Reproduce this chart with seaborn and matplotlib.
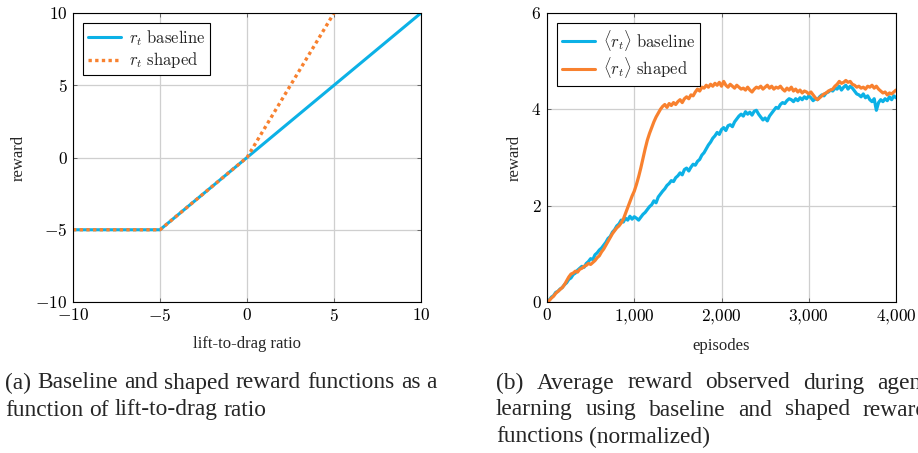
import numpy as np
import pandas as pd
import matplotlib
matplotlib.use("Agg")
import matplotlib.pyplot as plt
import seaborn as sns

# ---------------- data ----------------
ratio_baseline = [-10, -5, 0, 10]
reward_baseline = [-5, -5, 0, 10]
ratio_shaped = [-10, -5, 0, 5]
reward_shaped = [-5, -5, 0, 10]

episode_step = 25
avg_baseline = [
    0.00, 0.04, 0.10, 0.13, 0.20, 0.22, 0.27, 0.30, 0.36, 0.40,
    0.47, 0.50, 0.57, 0.60, 0.66, 0.70, 0.74, 0.72, 0.80, 0.84,
    0.90, 0.88, 0.98, 1.02, 1.08, 1.12, 1.18, 1.24, 1.32, 1.36,
    1.45, 1.50, 1.58, 1.62, 1.70, 1.66, 1.74, 1.70, 1.78, 1.72,
    1.77, 1.74, 1.70, 1.76, 1.82, 1.86, 1.92, 1.98, 2.02, 2.10,
    2.06, 2.18, 2.24, 2.30, 2.35, 2.42, 2.46, 2.52, 2.50, 2.58,
    2.62, 2.68, 2.64, 2.75, 2.78, 2.72, 2.80, 2.86, 2.84, 2.92,
    2.96, 3.05, 3.10, 3.18, 3.26, 3.32, 3.40, 3.45, 3.52, 3.48,
    3.58, 3.62, 3.56, 3.66, 3.68, 3.64, 3.74, 3.80, 3.86, 3.90,
    3.86, 3.95, 3.90, 3.94, 3.88, 3.96, 3.98, 3.90, 3.84, 3.78,
    3.82, 3.76, 3.86, 3.92, 3.98, 4.04, 4.02, 4.10, 4.14, 4.12,
    4.18, 4.22, 4.20, 4.16, 4.22, 4.18, 4.24, 4.20, 4.26, 4.22,
    4.28, 4.24, 4.18, 4.22, 4.20, 4.26, 4.30, 4.28, 4.34, 4.36,
    4.40, 4.38, 4.44, 4.42, 4.48, 4.40, 4.46, 4.50, 4.42, 4.48,
    4.44, 4.38, 4.32, 4.30, 4.26, 4.32, 4.24, 4.28, 4.20, 4.16,
    4.22, 3.98, 4.14, 4.20, 4.16, 4.22, 4.18, 4.26, 4.20, 4.28,
    4.24,
]
avg_shaped = [
    0.00, 0.03, 0.08, 0.12, 0.18, 0.22, 0.26, 0.30, 0.36, 0.44,
    0.52, 0.58, 0.60, 0.64, 0.62, 0.68, 0.70, 0.74, 0.76, 0.80,
    0.78, 0.82, 0.86, 0.92, 0.96, 1.04, 1.10, 1.18, 1.26, 1.34,
    1.42, 1.48, 1.54, 1.58, 1.64, 1.72, 1.84, 1.96, 2.08, 2.20,
    2.30, 2.44, 2.60, 2.78, 2.98, 3.18, 3.36, 3.50, 3.62, 3.74,
    3.84, 3.92, 4.00, 4.06, 4.10, 4.04, 4.12, 4.08, 4.14, 4.10,
    4.16, 4.20, 4.14, 4.22, 4.26, 4.22, 4.30, 4.28, 4.36, 4.42,
    4.38, 4.46, 4.44, 4.50, 4.46, 4.52, 4.48, 4.54, 4.50, 4.56,
    4.48, 4.58, 4.50, 4.46, 4.52, 4.48, 4.44, 4.50, 4.46, 4.42,
    4.44, 4.40, 4.46, 4.40, 4.36, 4.42, 4.46, 4.44, 4.48, 4.42,
    4.46, 4.50, 4.44, 4.48, 4.42, 4.46, 4.44, 4.48, 4.42, 4.38,
    4.44, 4.40, 4.46, 4.38, 4.42, 4.36, 4.40, 4.34, 4.38, 4.36,
    4.32, 4.36, 4.30, 4.24, 4.20, 4.24, 4.28, 4.32, 4.34, 4.38,
    4.40, 4.42, 4.48, 4.52, 4.58, 4.54, 4.56, 4.60, 4.56, 4.58,
    4.52, 4.50, 4.46, 4.48, 4.44, 4.46, 4.42, 4.48, 4.46, 4.50,
    4.44, 4.48, 4.42, 4.38, 4.34, 4.36, 4.30, 4.34, 4.32, 4.36,
    4.40,
]
episodes = np.arange(len(avg_baseline)) * episode_step

left_xticks = [-10, -5, 0, 5, 10]
left_yticks = [-10, -5, 0, 5, 10]
right_xticks = [0, 1000, 2000, 3000, 4000]
right_xticklabels = ["0", "1,000", "2,000", "3,000", "4,000"]
right_yticks = [0, 2, 4, 6]

caption_a = ["(a) Baseline and shaped reward functions as a",
             "function of lift-to-drag ratio"]
caption_b = ["(b) Average reward observed during agent",
             "learning using baseline and shaped reward",
             "functions (normalized)"]

BLUE = "#0CB1E6"
ORANGE = "#F8812F"

# ---------------- style ----------------
sns.set_theme(style="whitegrid")
plt.rcParams["font.family"] = ["Liberation Serif", "DejaVu Serif"]
plt.rcParams["mathtext.fontset"] = "cm"
plt.rcParams["axes.unicode_minus"] = True

fig = plt.figure(figsize=(9.18, 4.53), dpi=100)
W, H = 918, 453


def px_axes(x0, y0, x1, y1):
    return fig.add_axes([x0 / W, 1 - y1 / H, (x1 - x0) / W, (y1 - y0) / H])


ax1 = px_axes(73, 13, 421, 302)
ax2 = px_axes(547, 13, 896, 302)

for ax in (ax1, ax2):
    ax.set_facecolor("white")
    ax.grid(True, color="#cfcfcf", linewidth=0.9)
    for s in ax.spines.values():
        s.set_color("black")
        s.set_linewidth(0.8)
    ax.tick_params(direction="in", length=3, width=0.6, color="#555555",
                   top=True, right=True, bottom=True, left=True,
                   labelsize=12.5, pad=4, colors="black")

leg_kw = dict(loc="upper left", fontsize=12, frameon=True, fancybox=False,
              edgecolor="black", framealpha=1, borderaxespad=0.6,
              handlelength=2.0, handletextpad=0.45, borderpad=0.3,
              labelspacing=0.15)

# ---- left plot ----
df_b = pd.DataFrame({"x": ratio_baseline, "y": reward_baseline})
df_s = pd.DataFrame({"x": ratio_shaped, "y": reward_shaped})
sns.lineplot(data=df_b, x="x", y="y", ax=ax1, color=BLUE, linewidth=2.2,
             label=r"$r_t\ \mathrm{baseline}$", sort=False)
sns.lineplot(data=df_s, x="x", y="y", ax=ax1, color=ORANGE, linewidth=2.4,
             linestyle=(0, (1, 1)), label=r"$r_t\ \mathrm{shaped}$", sort=False)
ax1.set_xlim(-10, 10)
ax1.set_ylim(-10, 10)
ax1.set_xticks(left_xticks)
ax1.set_yticks(left_yticks)
ax1.set_xticklabels([f"${v}$" for v in left_xticks])
ax1.set_yticklabels([f"${v}$" for v in left_yticks])
ax1.set_xlabel("lift-to-drag ratio", fontsize=12, labelpad=8)
ax1.set_ylabel("reward", fontsize=12, labelpad=6)
leg1 = ax1.legend(**leg_kw)
leg1.get_frame().set_linewidth(0.8)

# ---- right plot ----
df2 = pd.DataFrame({"episodes": np.concatenate([episodes, episodes]),
                    "reward": avg_baseline + avg_shaped,
                    "kind": [r"$\langle r_t\rangle\ \mathrm{baseline}$"] * len(avg_baseline)
                    + [r"$\langle r_t\rangle\ \mathrm{shaped}$"] * len(avg_shaped)})
sns.lineplot(data=df2, x="episodes", y="reward", hue="kind", ax=ax2,
             palette=[BLUE, ORANGE], linewidth=2.3)
ax2.set_xlim(0, 4000)
ax2.set_ylim(0, 6)
ax2.set_xticks(right_xticks)
ax2.set_yticks(right_yticks)
ax2.set_xticklabels([f"${v}$".replace(",", "{,}") for v in right_xticklabels])
ax2.set_yticklabels([f"${v}$" for v in right_yticks])
ax2.set_xlabel("episodes", fontsize=12, labelpad=8)
ax2.set_ylabel("reward", fontsize=12, labelpad=6)
leg2 = ax2.legend(title=None, **leg_kw)
leg2.get_frame().set_linewidth(0.8)
for l in leg2.get_lines():
    l.set_linewidth(2.2)

# ---- captions (justified like the paper) ----
cap_fs = 16.8
renderer = fig.canvas.get_renderer()


def justified_line(x0, y, text, width, justify):
    words = text.split(" ")
    artists = [fig.text(0, 1 - y / H, w, fontsize=cap_fs, va="center", ha="left")
               for w in words]
    widths = [a.get_window_extent(renderer).width for a in artists]
    sp = fig.text(0, 0, "a a", fontsize=cap_fs)
    sp2 = fig.text(0, 0, "aa", fontsize=cap_fs)
    natural_gap = sp.get_window_extent(renderer).width - sp2.get_window_extent(renderer).width
    sp.remove()
    sp2.remove()
    gap = natural_gap
    if justify and len(words) > 1:
        gap = max(natural_gap * 0.8, (width - sum(widths)) / (len(words) - 1))
    x = x0
    for a, w in zip(artists, widths):
        a.set_x(x / W)
        x += w + gap


col_w = 432
for i, line in enumerate(caption_a):
    justified_line(5, 383 + 27 * i, line, col_w, i < len(caption_a) - 1)
for i, line in enumerate(caption_b):
    justified_line(496, 383 + 27 * i, line, col_w, i < len(caption_b) - 1)

fig.savefig("out.png", dpi=100, facecolor="white")
